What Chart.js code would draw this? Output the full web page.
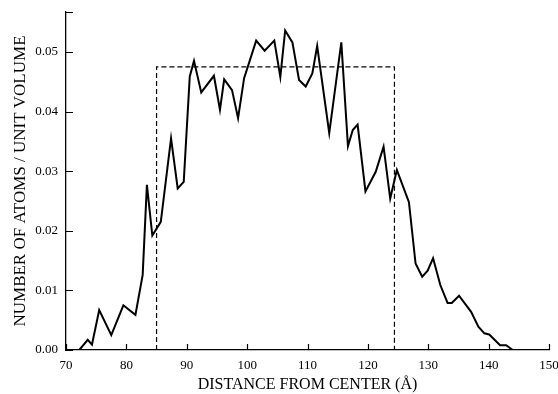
<!DOCTYPE html>
<html>
<head>
<meta charset="utf-8">
<script src="https://cdn.jsdelivr.net/npm/chart.js@4.4.1/dist/chart.umd.min.js"></script>
<style>
  html, body { margin: 0; padding: 0; background: #fff; }
  #wrap { width: 558px; height: 394px; }
</style>
</head>
<body>
<div id="wrap"><canvas id="profile"></canvas></div>
<script>
// distance from center (Å) and atom density
const distance = [72.2, 73.6, 74.3, 75.5, 77.5, 79.5, 81.5, 82.7, 83.4, 84.3,
  85.7, 87.4, 88.5, 89.5, 90.5, 91.2, 92.4, 94.5, 95.5, 96.2,
  97.5, 98.5, 99.5, 101.5, 102.9, 104.5, 105.5, 106.3, 107.5, 108.6,
  109.7, 110.8, 111.6, 113.6, 115.6, 116.7, 117.5, 118.3, 119.6, 121.3,
  122.6, 123.7, 124.8, 126.8, 127.9, 129.0, 129.9, 130.8, 132.0, 133.2,
  133.9, 135.1, 137.1, 138.3, 139.3, 140.1, 141.9, 142.9, 144.0];
const density = [0, 0.0017, 0.0009, 0.0067, 0.0025, 0.0075, 0.0059, 0.0126, 0.0277, 0.0192,
  0.0215, 0.0355, 0.0271, 0.0282, 0.0459, 0.0485, 0.0432, 0.046, 0.0403, 0.0454,
  0.0436, 0.0389, 0.0456, 0.0519, 0.0502, 0.0519, 0.0458, 0.0536, 0.0516, 0.0453,
  0.0442, 0.0464, 0.051, 0.0364, 0.0516, 0.0342, 0.0369, 0.0378, 0.0266, 0.0299,
  0.0341, 0.0254, 0.0302, 0.0248, 0.0145, 0.0123, 0.0133, 0.0154, 0.0109, 0.0079,
  0.0079, 0.0091, 0.0064, 0.0039, 0.0028, 0.0026, 0.0008, 0.0008, 0];

// dashed box (uniform model)
const boxX = [85, 85, 124.4, 124.4];
const boxY = [0, 0.0475, 0.0475, 0];

const xTicks = [70, 80, 90, 100, 110, 120, 130, 140, 150];
const yTicks = [0, 0.01, 0.02, 0.03, 0.04, 0.05];

const fontFam = '"Liberation Serif", serif';

// inward tick marks, drawn at the scales' own tick positions
const inwardTicks = {
  id: 'inwardTicks',
  afterDraw(chart) {
    const { ctx, chartArea, scales } = chart;
    ctx.save();
    ctx.strokeStyle = '#000';
    ctx.lineWidth = 1.2;
    ctx.beginPath();
    scales.x.ticks.forEach(t => {
      const px = Math.round(scales.x.getPixelForValue(t.value)) + 0.5;
      ctx.moveTo(px, chartArea.bottom);
      ctx.lineTo(px, chartArea.bottom - 6);
    });
    scales.y.ticks.forEach(t => {
      const py = Math.round(scales.y.getPixelForValue(t.value)) + 0.5;
      ctx.moveTo(chartArea.left, py);
      ctx.lineTo(chartArea.left + 7, py);
    });
    ctx.stroke();
    ctx.restore();
  }
};

const ctx = document.getElementById('profile').getContext('2d');
new Chart(ctx, {
  type: 'scatter',
  data: {
    datasets: [{
      data: distance.map((d, i) => ({ x: d, y: density[i] })),
      showLine: true,
      borderColor: '#000',
      borderWidth: 2,
      pointRadius: 0,
      tension: 0
    }, {
      data: boxX.map((d, i) => ({ x: d, y: boxY[i] })),
      showLine: true,
      borderColor: '#000',
      borderWidth: 1.2,
      borderDash: [5, 3],
      pointRadius: 0,
      tension: 0
    }]
  },
  options: {
    responsive: true,
    maintainAspectRatio: false,
    animation: false,
    layout: { padding: { top: 12, right: 9, left: 10, bottom: 0 } },
    plugins: { legend: { display: false }, tooltip: { enabled: false } },
    scales: {
      x: {
        type: 'linear',
        min: 70,
        max: 150,
        afterFit(scale) {
          scale.height = 44;
          scale.paddingLeft = 0;
          scale.paddingRight = 0;
        },
        afterBuildTicks(scale) { scale.ticks = xTicks.map(v => ({ value: v })); },
        grid: { display: true, drawOnChartArea: false, drawTicks: false, color: 'rgba(0,0,0,0)' },
        border: { display: true, color: '#000', width: 1.3 },
        ticks: {
          padding: 8,
          color: '#000',
          font: { family: fontFam, size: 13 },
          maxRotation: 0,
          autoSkip: false
        },
        title: {
          display: true,
          text: 'DISTANCE FROM CENTER (Å)',
          color: '#000',
          font: { family: fontFam, size: 16 },
          padding: { top: 0, bottom: 0 }
        }
      },
      y: {
        min: 0,
        max: 0.0567,
        afterFit(scale) {
          scale.width = 56;
          scale.paddingTop = 0;
          scale.paddingBottom = 0;
        },
        afterBuildTicks(scale) { scale.ticks = yTicks.concat([0.0567]).map(v => ({ value: v })); },
        grid: { display: true, drawOnChartArea: false, drawTicks: false, color: 'rgba(0,0,0,0)' },
        border: { display: true, color: '#000', width: 1.3 },
        ticks: {
          padding: 8,
          color: '#000',
          font: { family: fontFam, size: 13 },
          callback: v => (v > 0.055 ? '' : v.toFixed(2))
        },
        title: {
          display: true,
          text: 'NUMBER OF ATOMS / UNIT VOLUME',
          color: '#000',
          font: { family: fontFam, size: 17 },
          padding: { top: 0, bottom: 4 }
        }
      }
    }
  },
  plugins: [inwardTicks]
});
</script>
</body>
</html>
